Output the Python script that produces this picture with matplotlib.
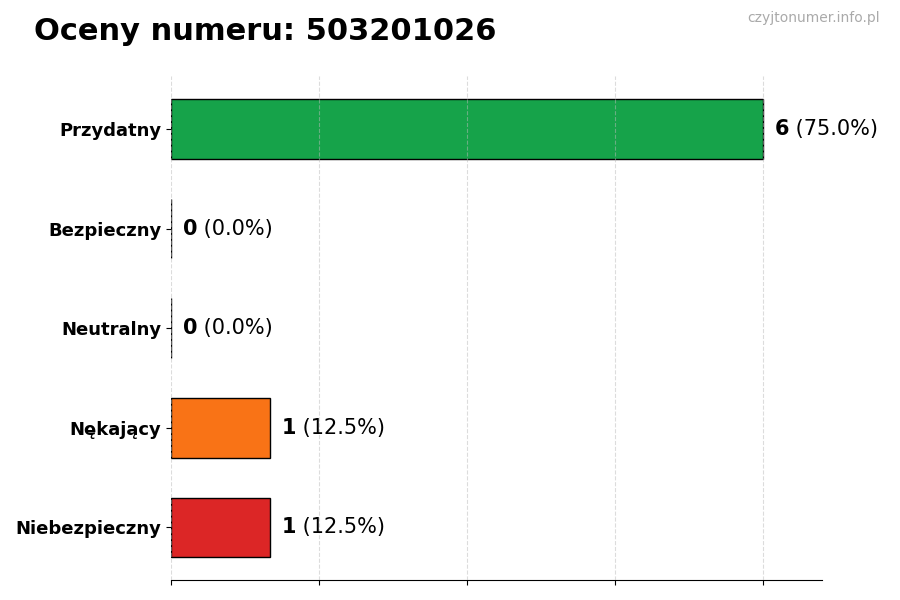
import matplotlib
matplotlib.use("Agg")
import matplotlib.pyplot as plt

categories = ["Przydatny", "Bezpieczny", "Neutralny", "Nękający", "Niebezpieczny"]
counts = [6, 0, 0, 1, 1]
colors = ["#16a34a", "#22c55e", "#6b7280", "#f97316", "#dc2626"]
title = "Oceny numeru: 503201026"
watermark = "czyjtonumer.info.pl"

total = sum(counts)

fig = plt.figure(figsize=(9, 6), dpi=100)
ax = fig.add_axes([0.19, 0.033, 0.723, 0.84])

ypos = list(range(len(categories)))
ax.barh(ypos, counts, height=0.6, color=colors, edgecolor="black", linewidth=1, zorder=2)
ax.set_yticks(ypos)
ax.set_yticklabels(categories, fontsize=13, fontweight="bold")
ax.invert_yaxis()
ax.set_xlim(0, max(counts) * 1.1)
ax.set_xticks([0, 1.5, 3, 4.5, 6])
ax.set_xticklabels([])
ax.grid(axis="x", linestyle="--", alpha=0.5, color="#bbbbbb", zorder=3)
ax.set_axisbelow(False)
for s in ["top", "right", "left"]:
    ax.spines[s].set_visible(False)

off = max(counts) * 0.02
for y, c in zip(ypos, counts):
    t = ax.text(c + off, y, f"{c}", fontsize=15, fontweight="bold", va="center", ha="left")
    fig.canvas.draw()
    bb = t.get_window_extent()
    inv = ax.transData.inverted()
    x_end = inv.transform((bb.x1, 0))[0]
    ax.text(x_end, y, f" ({c / total * 100:.1f}%)", fontsize=15, va="center", ha="left")

fig.text(0.038, 0.948, title, fontsize=22, fontweight="bold", ha="left", va="center")
fig.text(0.978, 0.97, watermark, fontsize=10, color="#aaaaaa", ha="right", va="center")

fig.savefig("out.png", dpi=100)
